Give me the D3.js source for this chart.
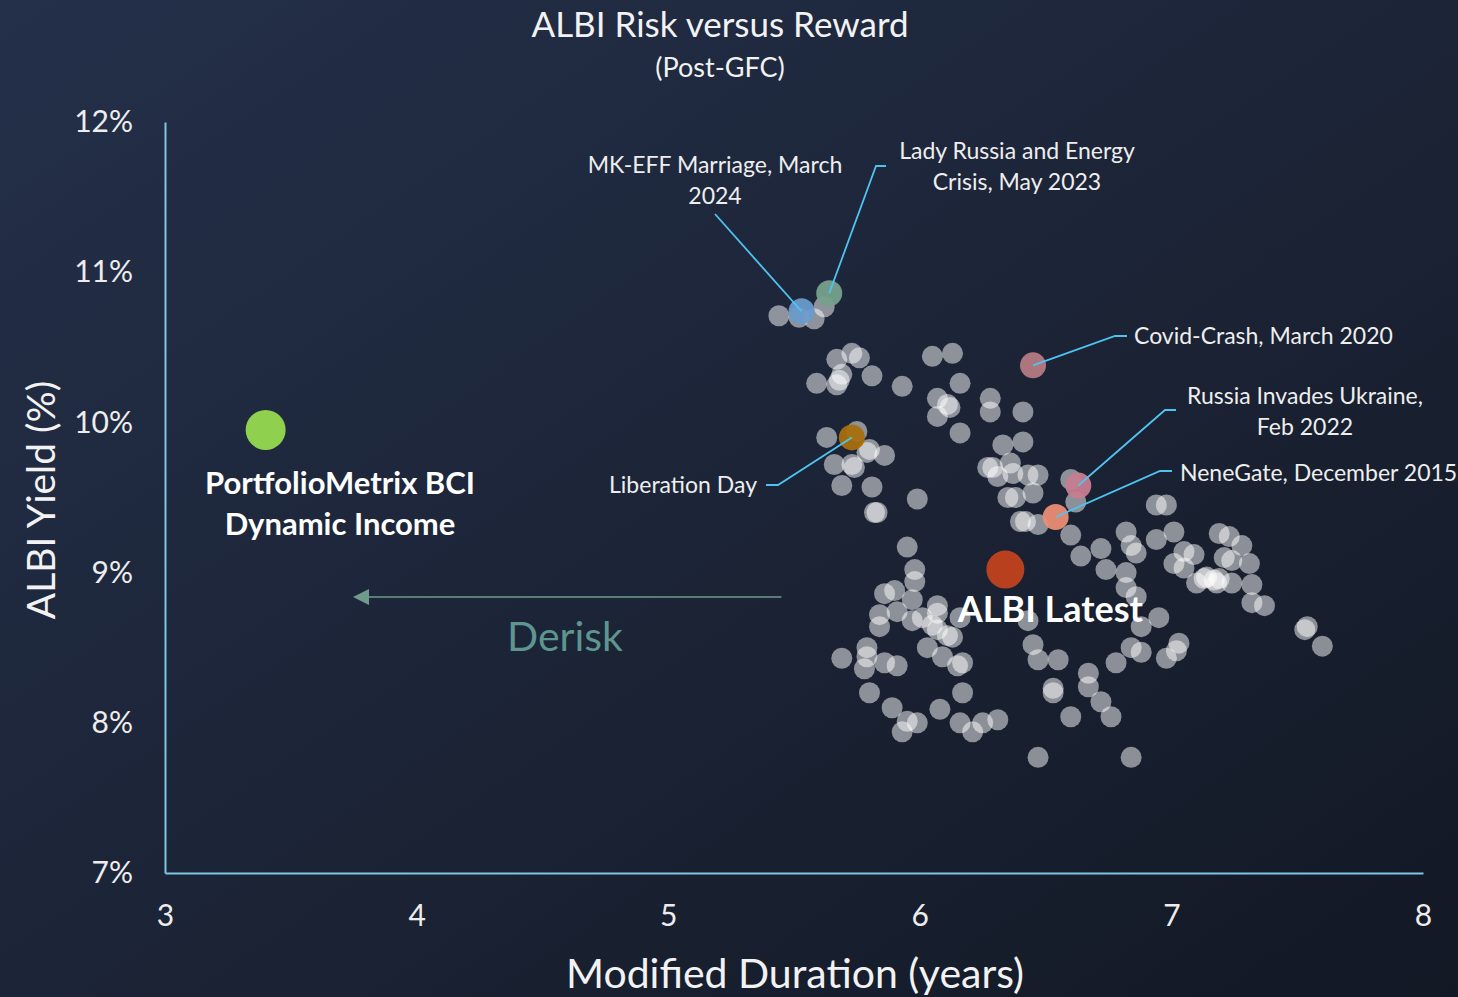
<!DOCTYPE html>
<html>
<head>
  <script src="https://d3js.org/d3.v7.min.js"></script>
  <style>
    html, body { margin: 0; padding: 0; background: #1a2233; }
    svg { display: block; }
  </style>
</head>
<body>
  <div id="chart"></div>
  <script>

  // ALBI monthly points (modified duration in years, yield in %)
  var durations = [5.44, 5.52, 5.58, 5.62, 5.67, 5.73, 5.76, 5.69, 5.68, 5.67, 5.59, 5.81, 5.93, 6.05, 6.13, 6.16, 6.07, 6.11, 6.12, 6.07,
    6.16, 6.28, 6.28, 6.41, 5.63, 5.75, 5.80, 5.79, 5.86, 5.66, 5.73, 5.74, 5.69, 5.81, 5.83, 5.82, 5.99, 5.95, 6.33, 6.41,
    6.27, 6.29, 6.31, 6.36, 6.37, 6.43, 6.47, 6.45, 6.35, 6.38, 6.40, 6.42, 6.47, 6.60, 6.62, 6.60, 6.64, 6.72, 6.74, 6.82,
    6.84, 6.86, 6.82, 6.82, 6.86, 6.88, 6.95, 6.94, 6.98, 6.94, 7.01, 7.01, 7.05, 7.09, 7.05, 7.10, 7.14, 7.17, 7.19, 7.19,
    7.23, 7.21, 7.24, 7.28, 7.31, 7.24, 7.32, 7.32, 7.37, 7.54, 7.53, 7.60, 7.13, 7.18, 6.43, 6.45, 6.47, 6.55, 6.67, 6.67,
    6.53, 6.53, 6.60, 6.72, 6.76, 6.78, 6.84, 6.88, 6.98, 7.03, 7.02, 6.47, 6.84, 5.98, 5.98, 5.86, 5.90, 5.97, 5.84, 5.84,
    5.91, 5.97, 6.01, 6.07, 6.07, 6.05, 6.07, 6.11, 6.13, 6.16, 5.69, 5.79, 5.79, 5.78, 5.86, 5.91, 6.03, 6.09, 6.15, 6.17,
    5.80, 5.89, 5.95, 5.99, 5.93, 6.08, 6.17, 6.16, 6.21, 6.25, 6.31];
  var yields = [10.71, 10.70, 10.69, 10.77, 10.42, 10.46, 10.43, 10.32, 10.28, 10.25, 10.26, 10.31, 10.24, 10.44, 10.46, 10.26, 10.16, 10.12, 10.10, 10.04,
    9.93, 10.16, 10.07, 10.07, 9.90, 9.94, 9.82, 9.80, 9.78, 9.72, 9.72, 9.70, 9.58, 9.57, 9.40, 9.40, 9.49, 9.17, 9.85, 9.87,
    9.70, 9.70, 9.64, 9.73, 9.66, 9.65, 9.65, 9.53, 9.50, 9.50, 9.34, 9.34, 9.32, 9.62, 9.47, 9.25, 9.11, 9.16, 9.02, 9.27,
    9.18, 9.13, 9.00, 8.90, 8.84, 8.64, 8.70, 9.45, 9.45, 9.22, 9.27, 9.06, 9.14, 9.12, 9.03, 8.93, 8.97, 8.95, 8.96, 9.26,
    9.24, 9.10, 9.08, 9.18, 9.06, 8.93, 8.92, 8.80, 8.78, 8.64, 8.62, 8.51, 8.96, 8.93, 8.68, 8.52, 8.42, 8.42, 8.33, 8.24,
    8.23, 8.20, 8.04, 8.14, 8.04, 8.40, 8.50, 8.47, 8.43, 8.53, 8.48, 7.77, 7.77, 9.02, 8.94, 8.86, 8.88, 8.82, 8.72, 8.64,
    8.74, 8.68, 8.70, 8.78, 8.73, 8.65, 8.62, 8.58, 8.57, 8.70, 8.43, 8.50, 8.44, 8.36, 8.40, 8.38, 8.50, 8.44, 8.38, 8.40,
    8.20, 8.10, 8.01, 8.00, 7.94, 8.09, 8.20, 8.00, 7.94, 8.00, 8.02];

  // labelled events
  var eventNames = ["MK-EFF Marriage, March 2024", "Lady Russia and Energy Crisis, May 2023", "Covid-Crash, March 2020",
    "Russia Invades Ukraine, Feb 2022", "NeneGate, December 2015", "Liberation Day"];
  var eventDurations = [5.53, 5.64, 6.45, 6.63, 6.54, 5.73];
  var eventYields = [10.74, 10.86, 10.38, 9.58, 9.37, 9.90];

  var albiName = "ALBI Latest", albiDuration = 6.34, albiYield = 9.02;
  var fundName = "PortfolioMetrix BCI Dynamic Income", fundDuration = 3.40, fundYield = 9.95;

  var xTicks = [3, 4, 5, 6, 7, 8];
  var yTicks = [7, 8, 9, 10, 11, 12];

  var eventColors = {
    "MK-EFF Marriage, March 2024": "#6a9bcc",
    "Lady Russia and Energy Crisis, May 2023": "#76a08c",
    "Covid-Crash, March 2020": "#b57a83",
    "Russia Invades Ukraine, Feb 2022": "#c67e90",
    "NeneGate, December 2015": "#ea8d74",
    "Liberation Day": "#a8700e"
  };

  // label placement: text lines, text anchor point, leader elbow
  var eventLabels = {
    "MK-EFF Marriage, March 2024": { lines: ["MK-EFF Marriage, March", "2024"], tx: 715, ty: 173, anchor: "middle", path: [[715, 214]] },
    "Lady Russia and Energy Crisis, May 2023": { lines: ["Lady Russia and Energy", "Crisis, May 2023"], tx: 1017, ty: 159, anchor: "middle", path: [[886, 166], [876, 166]] },
    "Covid-Crash, March 2020": { lines: ["Covid-Crash, March 2020"], tx: 1134, ty: 344, anchor: "start", path: [[1127, 336], [1115, 336]] },
    "Russia Invades Ukraine, Feb 2022": { lines: ["Russia Invades Ukraine,", "Feb 2022"], tx: 1305, ty: 404, anchor: "middle", path: [[1176, 410], [1165, 410]] },
    "NeneGate, December 2015": { lines: ["NeneGate, December 2015"], tx: 1180, ty: 481, anchor: "start", path: [[1172, 471], [1160, 471]] },
    "Liberation Day": { lines: ["Liberation Day"], tx: 757, ty: 493, anchor: "end", path: [[766, 485], [778, 485]] }
  };

  var width = 1458,
      height = 997,
      font = "Lato, 'Noto Sans', sans-serif";

  var svg = d3.select("#chart").append("svg")
    .attr("width", width)
    .attr("height", height);

  var defs = svg.append("defs");
  var grad = defs.append("linearGradient")
    .attr("id", "bg")
    .attr("x1", "0%").attr("y1", "0%")
    .attr("x2", "100%").attr("y2", "100%");
  grad.append("stop").attr("offset", "0%").attr("stop-color", "#24304a");
  grad.append("stop").attr("offset", "55%").attr("stop-color", "#1b2335");
  grad.append("stop").attr("offset", "100%").attr("stop-color", "#121824");

  // arrow head pointing along the line direction
  defs.append("marker")
    .attr("id", "arrow")
    .attr("viewBox", "0 0 10 10")
    .attr("refX", 8).attr("refY", 5)
    .attr("markerWidth", 16).attr("markerHeight", 16)
    .attr("markerUnits", "userSpaceOnUse")
    .attr("orient", "auto")
    .append("path")
    .attr("d", "M10,5L0,0L0,10Z")
    .attr("fill", "#6f9b8c");

  svg.append("rect")
    .attr("width", width)
    .attr("height", height)
    .attr("fill", "url(#bg)");

  var x = d3.scaleLinear().domain([3, 8]).range([165, 1423]);
  var y = d3.scaleLinear().domain([7, 12]).range([873, 122]);

  // axes
  var xAxis = svg.append("g")
    .attr("transform", "translate(0,873)")
    .call(d3.axisBottom(x).tickValues(xTicks).tickSize(0).tickSizeOuter(0).tickPadding(32).tickFormat(d3.format("d")));

  var yAxis = svg.append("g")
    .attr("transform", "translate(165,0)")
    .call(d3.axisLeft(y).tickValues(yTicks).tickSize(0).tickSizeOuter(0).tickPadding(32).tickFormat(function(d) { return d + "%"; }));

  [xAxis, yAxis].forEach(function(a) {
    a.select(".domain").attr("stroke", "#7cc6e6").attr("stroke-width", 2);
    a.selectAll("text")
      .attr("fill", "#ededed")
      .style("font-family", font)
      .style("font-size", "30px");
  });

  // titles
  svg.append("text")
    .attr("x", 720).attr("y", 37)
    .attr("text-anchor", "middle")
    .attr("fill", "#f2f2f2")
    .style("font-family", font).style("font-size", "35px")
    .text("ALBI Risk versus Reward");

  svg.append("text")
    .attr("x", 720).attr("y", 77)
    .attr("text-anchor", "middle")
    .attr("fill", "#f2f2f2")
    .style("font-family", font).style("font-size", "27px")
    .text("(Post-GFC)");

  svg.append("text")
    .attr("x", 795).attr("y", 988)
    .attr("text-anchor", "middle")
    .attr("fill", "#f2f2f2")
    .style("font-family", font).style("font-size", "41px")
    .text("Modified Duration (years)");

  svg.append("text")
    .attr("transform", "translate(55,500) rotate(-90)")
    .attr("text-anchor", "middle")
    .attr("fill", "#f2f2f2")
    .style("font-family", font).style("font-size", "39px")
    .text("ALBI Yield (%)");

  // derisk arrow
  svg.append("line")
    .attr("x1", x(5.45)).attr("y1", 597)
    .attr("x2", x(3.76)).attr("y2", 597)
    .attr("stroke", "#6f9b8c")
    .attr("stroke-width", 1.5)
    .attr("marker-end", "url(#arrow)");

  svg.append("text")
    .attr("x", 565).attr("y", 651)
    .attr("text-anchor", "middle")
    .attr("fill", "#5e958f")
    .style("font-family", font).style("font-size", "41px")
    .text("Derisk");

  // cloud of points
  var cloud = durations.map(function(d, i) { return { d: d, y: yields[i] }; });

  svg.append("g")
    .selectAll("circle")
    .data(cloud)
    .enter()
    .append("circle")
    .attr("cx", function(p) { return x(p.d); })
    .attr("cy", function(p) { return y(p.y); })
    .attr("r", 10.5)
    .attr("fill", "#ffffff")
    .attr("fill-opacity", 0.5);

  // leader lines
  var events = eventNames.map(function(n, i) {
    return { name: n, d: eventDurations[i], y: eventYields[i] };
  });

  svg.append("g")
    .selectAll("path")
    .data(events)
    .enter()
    .append("path")
    .attr("d", function(e) {
      var pts = eventLabels[e.name].path.concat([[x(e.d), y(e.y)]]);
      return d3.line()(pts);
    })
    .attr("fill", "none")
    .attr("stroke", "#4fc3f0")
    .attr("stroke-width", 1.8);

  svg.append("g")
    .selectAll("circle")
    .data(events)
    .enter()
    .append("circle")
    .attr("cx", function(e) { return x(e.d); })
    .attr("cy", function(e) { return y(e.y); })
    .attr("r", 13)
    .attr("fill", function(e) { return eventColors[e.name]; })
    .attr("fill-opacity", 0.95);

  // redraw leader tips over the event dots
  svg.append("g")
    .selectAll("path")
    .data(events)
    .enter()
    .append("path")
    .attr("d", function(e) {
      var p = eventLabels[e.name].path,
          last = p[p.length - 1],
          cx = x(e.d), cy = y(e.y),
          dx = cx - last[0], dy = cy - last[1],
          len = Math.sqrt(dx * dx + dy * dy),
          k = 13 / len;
      return d3.line()([[cx - dx * k, cy - dy * k], [cx, cy]]);
    })
    .attr("stroke", "#4fc3f0")
    .attr("stroke-width", 1.8);

  var labels = svg.append("g")
    .selectAll("text")
    .data(events)
    .enter()
    .append("text")
    .attr("text-anchor", function(e) { return eventLabels[e.name].anchor; })
    .attr("fill", "#eeeeee")
    .style("font-family", font)
    .style("font-size", "23px");

  labels.selectAll("tspan")
    .data(function(e) {
      var l = eventLabels[e.name];
      return l.lines.map(function(t, i) { return { t: t, x: l.tx, y: l.ty + i * 31 }; });
    })
    .enter()
    .append("tspan")
    .attr("x", function(s) { return s.x; })
    .attr("y", function(s) { return s.y; })
    .text(function(s) { return s.t; });

  // ALBI latest
  svg.append("circle")
    .attr("cx", x(albiDuration)).attr("cy", y(albiYield))
    .attr("r", 19)
    .attr("fill", "#b8401f");

  svg.append("text")
    .attr("x", x(albiDuration) + 45).attr("y", y(albiYield) + 52)
    .attr("text-anchor", "middle")
    .attr("fill", "#ffffff")
    .style("font-family", font).style("font-size", "36px").style("font-weight", "bold")
    .text(albiName);

  // PortfolioMetrix fund
  svg.append("circle")
    .attr("cx", x(fundDuration)).attr("cy", y(fundYield))
    .attr("r", 20)
    .attr("fill", "#8fd14f");

  svg.append("text")
    .attr("text-anchor", "middle")
    .attr("fill", "#ffffff")
    .style("font-family", font).style("font-size", "31px").style("font-weight", "bold")
    .selectAll("tspan")
    .data(["PortfolioMetrix BCI", "Dynamic Income"])
    .enter()
    .append("tspan")
    .attr("x", 340)
    .attr("y", function(t, i) { return 494 + i * 41; })
    .text(function(t) { return t; });

  </script>
</body>
</html>
